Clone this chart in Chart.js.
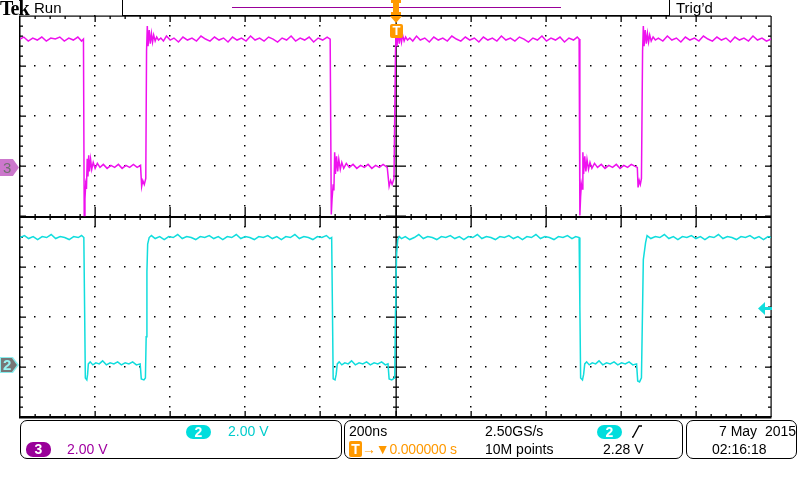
<!DOCTYPE html>
<html>
<head>
<meta charset="utf-8">
<script src="https://cdn.jsdelivr.net/npm/chart.js@4"></script>
<style>
  body { margin: 0; background: #fff; }
  #scope { position: relative; width: 800px; height: 480px; overflow: hidden; font-family: "Liberation Sans", Arial, sans-serif; }
  #scope canvas { position: absolute; left: 0; top: 0; }
  .t { position: absolute; white-space: pre; font-size: 14px; line-height: 16px; color: #000; }
  .box { position: absolute; border: 1px solid #000; border-radius: 7px; box-sizing: border-box; }
  .badge { position: absolute; color: #fff; font-weight: bold; font-size: 14px; line-height: 14px; text-align: center; border-radius: 7px; }
</style>
</head>
<body>
<div id="scope">
  <canvas id="scope-canvas" width="800" height="480"></canvas>

  <!-- barre du haut -->
  <div class="t" style="left:0;top:-1px;font-family:'Liberation Serif',serif;font-weight:bold;font-size:20px;line-height:18px;letter-spacing:-1px;">Tek</div>
  <div class="t" style="left:34px;top:0;font-size:15px;">Run</div>
  <div class="box" style="left:122px;top:-1px;width:548px;height:17px;border-radius:0;border-width:1.5px;"></div>
  <div style="position:absolute;left:232px;top:7px;width:329px;height:1px;background:#990099;"></div>
  <div class="t" style="left:676px;top:0;font-size:15px;">Trig’d</div>

  <!-- marqueur de declenchement -->
  <svg style="position:absolute;left:389px;top:0;" width="15" height="25">
    <rect x="4" y="0" width="6" height="15" fill="#ff9900"/>
    <rect x="2" y="0" width="10" height="3" fill="#ff9900"/>
    <rect x="2" y="12" width="10" height="3" fill="#ff9900"/>
    <polygon points="1,16 13,16 7,23" fill="#ff9900"/>
  </svg>
  <div class="badge" style="left:390px;top:24px;width:13px;height:14px;border-radius:2px;background:#ff9900;font-size:13px;">T</div>

  <!-- marqueurs de voies -->
  <div style="position:absolute;left:0;top:159px;width:19px;height:17px;background:#cc77cc;clip-path:polygon(0 0,68% 0,100% 50%,68% 100%,0 100%);"></div>
  <div class="t" style="left:3px;top:160px;color:#707070;font-size:15px;">3</div>
  <div style="position:absolute;left:0;top:357px;width:19px;height:16px;background:#88eeee;clip-path:polygon(0 0,68% 0,100% 50%,68% 100%,0 100%);"></div>
  <div style="position:absolute;left:1px;top:358px;width:16px;height:14px;background:#777;clip-path:polygon(0 0,68% 0,100% 50%,68% 100%,0 100%);"></div>
  <div class="t" style="left:3px;top:357px;color:#99f4f4;font-weight:bold;font-size:15px;">2</div>
  <svg style="position:absolute;left:758px;top:302px;" width="14" height="13">
    <polygon points="0,6.5 7,0 7,13" fill="#11dddd"/>
    <rect x="6" y="5" width="8" height="3" fill="#11dddd"/>
  </svg>

  <!-- boites du bas -->
  <div class="box" style="left:20px;top:420px;width:322px;height:39px;"></div>
  <div class="box" style="left:344px;top:420px;width:339px;height:39px;"></div>
  <div class="box" style="left:686px;top:420px;width:111px;height:39px;"></div>

  <div class="badge" style="left:186px;top:425px;width:25px;height:14px;background:#00dddd;">2</div>
  <div class="t" style="left:228px;top:423px;color:#00cccc;">2.00 V</div>
  <div class="badge" style="left:26px;top:442px;width:25px;height:15px;line-height:15px;background:#990099;">3</div>
  <div class="t" style="left:67px;top:441px;color:#a000a0;">2.00 V</div>

  <div class="t" style="left:349px;top:423px;">200ns</div>
  <div class="badge" style="left:349px;top:441px;width:13px;height:16px;line-height:16px;border-radius:2px;background:#ff9900;">T</div>
  <div class="t" style="left:362px;top:441px;color:#ff9900;letter-spacing:-0.2px;">→▼0.000000 s</div>
  <div class="t" style="left:485px;top:423px;">2.50GS/s</div>
  <div class="t" style="left:485px;top:441px;">10M points</div>
  <div class="badge" style="left:597px;top:425px;width:25px;height:14px;background:#00dddd;">2</div>
  <svg style="position:absolute;left:631px;top:425px;" width="12" height="13">
    <polyline points="1,12 2,12 8,1 11,1" fill="none" stroke="#000" stroke-width="1.3"/>
  </svg>
  <div class="t" style="left:603px;top:441px;">2.28 V</div>
  <div class="t" style="left:719px;top:423px;">7 May  2015</div>
  <div class="t" style="left:712px;top:441px;">02:16:18</div>
</div>

<script>
// Reglages de l'oscillo (ns et V)
const timeMin = -1000;
const timeMax = 1000;
const timeDivs = [-1000, -800, -600, -400, -200, 0, 200, 400, 600, 800, 1000];
const voltDivs = [-4, -3, -2, -1, 0, 1, 2, 3, 4];
const voltsPerDiv = 2.0;
const ch3Offset = 1;   // masse de la voie 3 (en divisions)
const ch2Offset = -3;  // masse de la voie 2

// Voie 3 (magenta) : [temps ns, tension V]
const ch3Points = [
  [-1000, 5.08], [-990, 5.16], [-978, 5.0], [-966, 5.12], [-954, 5.04], [-942, 5.16], [-930, 5.0], [-918, 5.12],
  [-906, 5.08], [-894, 5.16], [-882, 5.0], [-870, 5.12], [-858, 5.04], [-846, 5.16], [-836, 5.0], [-831, 5.08],
  [-829, -1.96], [-827, -1.3], [-825, -0.72], [-823, -0.9], [-821, 0.3], [-819, -0.4], [-817, 0.44], [-815, -0.2],
  [-812, 0.28], [-809, -0.12], [-805, 0.16], [-800, -0.08], [-794, 0.12], [-787, -0.04], [-778, 0.08], [-768, -0.08],
  [-758, 0.04], [-748, -0.04], [-738, 0.08], [-728, -0.08], [-718, 0.04], [-708, -0.04], [-698, 0.08], [-688, -0.04],
  [-679, 0.04], [-676, -0.8], [-673, -0.56], [-669, -0.72], [-665, -0.48],
  [-663, 4.6], [-661, 5.6], [-659, 4.8], [-656, 5.44], [-653, 4.9], [-650, 5.3], [-647, 4.96], [-644, 5.24],
  [-640, 5.0], [-636, 5.16], [-631, 5.04], [-625, 5.12], [-618, 5.0], [-610, 5.2], [-600, 5.04], [-590, 5.12],
  [-578, 4.96], [-566, 5.16], [-554, 5.04], [-542, 5.12], [-530, 5.0], [-518, 5.2], [-506, 5.08], [-494, 5.0],
  [-482, 5.16], [-470, 5.04], [-458, 5.12], [-446, 4.96], [-434, 5.16], [-422, 5.04], [-410, 5.12], [-398, 5.0],
  [-386, 5.2], [-374, 5.04], [-362, 5.12], [-350, 5.0], [-338, 5.16], [-326, 5.08], [-314, 4.96], [-302, 5.12],
  [-290, 5.04], [-278, 5.2], [-266, 5.0], [-254, 5.12], [-242, 5.04], [-230, 5.16], [-218, 4.96], [-206, 5.12],
  [-194, 5.04], [-182, 5.16], [-174, 5.08],
  [-171, -1.92], [-169, -1.32], [-166, -0.72], [-164, -0.96], [-162, 0.56], [-160, -0.3], [-157, 0.4], [-154, -0.2],
  [-151, 0.28], [-147, -0.12], [-143, 0.16], [-138, -0.08], [-131, 0.12], [-123, -0.04], [-113, 0.08], [-103, -0.08],
  [-93, 0.04], [-83, -0.04], [-73, 0.08], [-63, -0.08], [-53, 0.04], [-43, -0.04], [-33, 0.08], [-22, -0.04],
  [-17, -0.8], [-13, -0.56], [-9, -0.72], [-4, -0.48],
  [0, 4.6], [2, 5.6], [4, 4.8], [7, 5.44], [10, 4.9], [13, 5.3], [16, 4.96], [19, 5.24],
  [23, 5.0], [27, 5.16], [32, 5.04], [38, 5.12], [46, 5.0], [56, 5.2], [66, 5.04], [78, 5.12],
  [90, 4.96], [102, 5.16], [114, 5.04], [126, 5.12], [138, 5.0], [150, 5.2], [162, 5.08], [174, 5.0],
  [186, 5.16], [198, 5.04], [210, 5.12], [222, 4.96], [234, 5.16], [246, 5.04], [258, 5.12], [270, 5.0],
  [282, 5.2], [294, 5.04], [306, 5.12], [318, 5.0], [330, 5.16], [342, 5.08], [354, 4.96], [366, 5.12],
  [378, 5.04], [390, 5.2], [402, 5.0], [414, 5.12], [426, 5.04], [438, 5.16], [450, 4.96], [462, 5.12],
  [474, 5.04], [484, 5.16], [489, 5.08],
  [491, -1.96], [493, -1.2], [495, -0.72], [497, -0.9], [499, 0.56], [501, -0.3], [504, 0.4], [507, -0.2],
  [510, 0.28], [514, -0.12], [518, 0.16], [523, -0.08], [530, 0.12], [538, -0.04], [548, 0.08], [558, -0.08],
  [568, 0.04], [578, -0.04], [588, 0.08], [598, -0.08], [608, 0.04], [618, -0.04], [628, 0.08], [638, 0.0],
  [644, -0.04], [646, -0.84], [649, -0.56], [652, -0.72], [655, -0.48],
  [658, 4.6], [660, 5.6], [662, 4.8], [665, 5.44], [668, 4.9], [671, 5.3], [674, 4.96], [677, 5.24],
  [681, 5.0], [686, 5.16], [692, 5.04], [700, 5.12], [712, 5.0], [724, 5.2], [736, 5.04], [748, 5.12],
  [760, 4.96], [772, 5.16], [784, 5.04], [796, 5.12], [808, 5.0], [820, 5.2], [832, 5.08], [844, 5.0],
  [856, 5.16], [868, 5.04], [880, 5.12], [892, 4.96], [904, 5.16], [916, 5.04], [928, 5.12], [940, 5.0],
  [952, 5.2], [964, 5.04], [976, 5.12], [988, 5.0], [1000, 5.08]
];

// Voie 2 (cyan)
const ch2Points = [
  [-1000, 5.16], [-988, 5.24], [-977, 5.12], [-965, 5.2], [-953, 5.08], [-941, 5.2], [-929, 5.16], [-917, 5.28],
  [-905, 5.12], [-893, 5.2], [-881, 5.16], [-869, 5.08], [-857, 5.2], [-845, 5.16], [-836, 5.24], [-830, 5.16],
  [-828, 2.4], [-826, -0.44], [-822, -0.52], [-820, -0.3], [-818, 0.12], [-813, 0.2], [-806, 0.08], [-798, 0.16],
  [-789, 0.12], [-780, 0.24], [-770, 0.08], [-760, 0.16], [-750, 0.12], [-740, 0.2], [-730, 0.08], [-720, 0.16],
  [-710, 0.12], [-700, 0.2], [-690, 0.08], [-680, 0.12], [-677, -0.48], [-670, -0.52], [-666, -0.44],
  [-664, 1.2], [-662, 3.8], [-660, 4.9], [-656, 5.16], [-650, 5.24], [-640, 5.12], [-628, 5.2], [-616, 5.08],
  [-604, 5.2], [-592, 5.16], [-580, 5.28], [-568, 5.12], [-556, 5.2], [-544, 5.16], [-532, 5.08], [-520, 5.2],
  [-508, 5.16], [-496, 5.24], [-484, 5.12], [-472, 5.2], [-460, 5.08], [-448, 5.2], [-436, 5.16], [-424, 5.28],
  [-412, 5.12], [-400, 5.2], [-388, 5.16], [-376, 5.08], [-364, 5.2], [-352, 5.16], [-340, 5.24], [-328, 5.12],
  [-316, 5.2], [-304, 5.08], [-292, 5.2], [-280, 5.16], [-268, 5.28], [-256, 5.12], [-244, 5.2], [-232, 5.16],
  [-220, 5.08], [-208, 5.2], [-196, 5.16], [-184, 5.24], [-175, 5.12], [-170, 5.16],
  [-168, 2.4], [-166, -0.48], [-161, -0.52], [-158, -0.3], [-155, 0.12], [-150, 0.2], [-143, 0.08], [-135, 0.16],
  [-126, 0.12], [-117, 0.24], [-107, 0.08], [-97, 0.16], [-87, 0.12], [-77, 0.2], [-67, 0.08], [-57, 0.16],
  [-47, 0.12], [-37, 0.2], [-27, 0.08], [-20, 0.12], [-17, -0.48], [-10, -0.52], [-2, -0.44],
  [0, 2.28], [1, 3.2], [3, 4.5], [6, 5.08], [10, 5.2], [16, 5.12], [26, 5.2], [38, 5.08],
  [50, 5.16], [62, 5.28], [74, 5.12], [86, 5.2], [98, 5.16], [110, 5.08], [122, 5.2], [134, 5.16],
  [146, 5.24], [158, 5.12], [170, 5.2], [182, 5.08], [194, 5.2], [206, 5.16], [218, 5.28], [230, 5.12],
  [242, 5.2], [254, 5.16], [266, 5.08], [278, 5.2], [290, 5.16], [302, 5.24], [314, 5.12], [326, 5.2],
  [338, 5.08], [350, 5.2], [362, 5.16], [374, 5.28], [386, 5.12], [398, 5.2], [410, 5.16], [422, 5.08],
  [434, 5.2], [446, 5.16], [458, 5.24], [470, 5.12], [480, 5.2], [489, 5.16],
  [491, 2.4], [493, -0.44], [498, -0.52], [501, -0.3], [504, 0.12], [509, 0.2], [516, 0.08], [524, 0.16],
  [533, 0.12], [542, 0.24], [552, 0.08], [562, 0.16], [572, 0.12], [582, 0.2], [592, 0.08], [602, 0.16],
  [612, 0.12], [622, 0.2], [632, 0.08], [642, 0.12], [645, -0.56], [650, -0.6], [655, -0.44],
  [660, 4.28], [666, 4.96], [670, 5.24], [680, 5.12], [692, 5.2], [704, 5.16], [716, 5.28], [728, 5.12],
  [740, 5.2], [752, 5.08], [764, 5.2], [776, 5.16], [788, 5.24], [800, 5.12], [812, 5.2], [824, 5.08],
  [836, 5.2], [848, 5.16], [860, 5.28], [872, 5.12], [884, 5.2], [896, 5.16], [908, 5.08], [920, 5.2],
  [932, 5.16], [944, 5.24], [956, 5.12], [968, 5.2], [980, 5.08], [992, 5.2], [1000, 5.16]
];

// Graticule facon Tek : lignes pointillees + graduations
const graticule = {
  id: 'graticule',
  beforeDatasetsDraw(chart) {
    const { ctx, chartArea: a, scales: { x, y } } = chart;
    const xStep = (timeDivs[1] - timeDivs[0]) / 5;
    const yStep = 0.2;
    ctx.save();
    ctx.fillStyle = '#000';

    // lignes verticales pointillees
    timeDivs.slice(1, -1).forEach(tv => {
      if (tv === 0) return;
      const px = Math.round(x.getPixelForValue(tv));
      for (let v = voltDivs[0]; v <= voltDivs[voltDivs.length - 1] + 0.001; v += yStep) {
        const py = Math.round(y.getPixelForValue(v));
        ctx.fillRect(px - 1, py - 1, 1.5, 1.5);
      }
    });
    // lignes horizontales pointillees
    voltDivs.slice(1, -1).forEach(vv => {
      if (vv === 0) return;
      const py = Math.round(y.getPixelForValue(vv));
      for (let t = timeMin; t <= timeMax + 0.001; t += xStep) {
        const px = Math.round(x.getPixelForValue(t));
        ctx.fillRect(px - 1, py - 1, 1.5, 1.5);
      }
    });

    // axes centraux
    const cx = Math.round(x.getPixelForValue(0));
    const cy = Math.round(y.getPixelForValue(0));
    ctx.fillRect(cx - 0.5, a.top, 1.3, a.bottom - a.top);
    ctx.fillRect(a.left, cy - 1, a.right - a.left, 2);

    // graduations sur l'axe horizontal central, le haut et le bas
    for (let t = timeMin + xStep; t < timeMax; t += xStep) {
      const px = Math.round(x.getPixelForValue(t));
      const major = Math.abs(Math.round(t / 200) * 200 - t) < 0.01;
      const h = major ? 10 : 3;
      ctx.fillRect(px - 0.5, cy - h, 1.3, h * 2);
      ctx.fillRect(px - 0.5, a.top, 1.3, major ? 6 : 3);
      ctx.fillRect(px - 0.5, a.bottom - (major ? 6 : 3), 1.3, major ? 6 : 3);
    }
    // graduations sur l'axe vertical central, a gauche et a droite
    for (let v = voltDivs[0] + yStep; v < voltDivs[voltDivs.length - 1] - 0.001; v += yStep) {
      const py = Math.round(y.getPixelForValue(v));
      const major = Math.abs(Math.round(v) - v) < 0.01;
      const w = major ? 10 : 3;
      ctx.fillRect(cx - w, py - 0.5, w * 2, 1.3);
      ctx.fillRect(a.left, py - 0.5, major ? 6 : 3, 1.3);
      ctx.fillRect(a.right - (major ? 6 : 3), py - 0.5, major ? 6 : 3, 1.3);
    }

    // cadre
    ctx.fillRect(a.left - 1, a.top, 1.5, a.bottom - a.top);
    ctx.fillRect(a.right - 0.5, a.top, 1.2, a.bottom - a.top);
    ctx.fillRect(a.left - 1, a.top - 0.5, a.right - a.left + 1, 1.2);
    ctx.fillRect(a.left - 1, a.bottom - 1, a.right - a.left + 1.5, 2.5);
    ctx.restore();
  }
};

new Chart(document.getElementById('scope-canvas'), {
  type: 'line',
  data: {
    datasets: [
      {
        label: 'CH3',
        data: ch3Points.map(([t, v]) => ({ x: t, y: ch3Offset + v / voltsPerDiv })),
        borderColor: '#ee11ee',
        borderWidth: 1.5,
        pointRadius: 0,
        tension: 0
      },
      {
        label: 'CH2',
        data: ch2Points.map(([t, v]) => ({ x: t, y: ch2Offset + v / voltsPerDiv })),
        borderColor: '#11dddd',
        borderWidth: 1.5,
        pointRadius: 0,
        tension: 0
      }
    ]
  },
  options: {
    responsive: false,
    animation: false,
    layout: { padding: { left: 20, right: 29, top: 16, bottom: 63 } },
    scales: {
      x: { type: 'linear', min: timeMin, max: timeMax, display: false },
      y: { type: 'linear', min: voltDivs[0], max: voltDivs[voltDivs.length - 1], display: false }
    },
    plugins: {
      legend: { display: false },
      tooltip: { enabled: false }
    }
  },
  plugins: [graticule]
});
</script>
</body>
</html>
